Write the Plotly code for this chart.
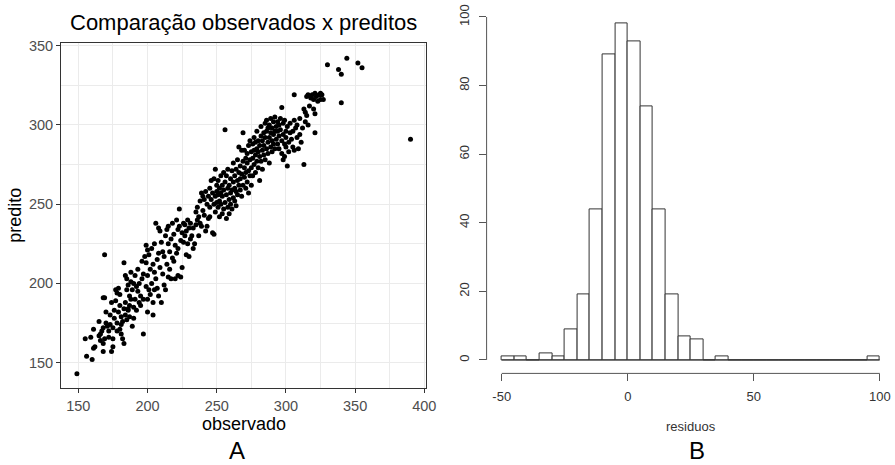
import plotly.graph_objects as go

W, H = 895, 465

# ---------------- Panel A data (observado x predito) ----------------
obs_seg1 = [149, 155, 156, 160, 161, 162, 159, 161, 165, 165, 166, 166, 167, 168, 168, 168, 169, 169, 168, 169, 170, 170, 171, 172, 172, 173, 173, 174, 175, 175, 175, 174]
pred_seg1 = [143, 165, 154, 152, 159, 160, 166, 171, 176, 167, 168, 164, 170, 172, 162, 157, 165, 218, 191, 191, 175, 182, 173, 166, 170, 174, 180, 188, 172, 165, 160, 157]

obs_seg2 = [176, 176, 177, 177, 178, 178, 178, 179, 179, 180, 180, 180, 181, 181, 181, 182, 182, 183, 183, 183, 184, 184, 184, 185, 185, 185, 186, 186, 186, 187, 187, 187, 188, 188, 188, 189, 189, 190, 190, 190]
pred_seg2 = [178, 183, 189, 196, 194, 170, 175, 182, 197, 186, 193, 171, 174, 179, 168, 176, 165, 213, 162, 184, 205, 188, 180, 203, 196, 177, 183, 199, 184, 186, 192, 179, 201, 190, 207, 173, 196, 185, 178, 200]

obs_seg3 = [191, 191, 192, 192, 193, 193, 194, 194, 195, 195, 196, 196, 197, 197, 197, 198, 199, 199, 199, 200, 200, 200, 200, 201, 201, 202, 202, 203, 203, 204, 204, 204, 205, 205, 205]
pred_seg3 = [205, 190, 183, 198, 195, 209, 200, 188, 186, 192, 203, 214, 168, 190, 206, 217, 224, 198, 213, 221, 205, 190, 182, 218, 196, 209, 193, 200, 222, 180, 188, 212, 207, 196, 225]

obs_seg4 = [206, 206, 207, 207, 208, 208, 208, 209, 209, 210, 210, 211, 211, 212, 212, 213, 213, 214, 214, 215, 215, 215, 216, 216, 217, 217, 218, 218, 219, 219, 220, 220, 221, 221, 222, 222, 222]
pred_seg4 = [238, 203, 215, 197, 235, 219, 192, 233, 210, 188, 226, 206, 220, 199, 217, 230, 196, 234, 212, 225, 204, 236, 220, 209, 203, 228, 238, 216, 214, 231, 224, 203, 240, 219, 222, 234, 205]

obs_seg5 = [223, 223, 224, 224, 225, 225, 226, 226, 227, 227, 228, 228, 229, 229, 230, 230, 231, 231, 232, 233, 233, 234, 235, 235, 236, 236, 237, 237, 238, 238, 239, 239, 240, 240, 241, 241, 242, 242, 243, 243, 244, 244, 245, 245, 245]
pred_seg5 = [247, 236, 227, 204, 210, 232, 238, 226, 230, 237, 218, 233, 240, 225, 217, 235, 228, 238, 230, 235, 222, 225, 245, 237, 248, 240, 242, 230, 238, 252, 236, 257, 255, 246, 253, 243, 258, 233, 236, 250, 241, 255, 248, 242, 260]

obs_seg6 = [246, 246, 247, 247, 248, 248, 248, 249, 249, 249, 250, 250, 250, 251, 251, 251, 252, 252, 252, 253, 253, 253, 254, 254, 254, 255, 255, 255, 256, 256, 256, 257, 257, 257, 258, 258, 258, 259, 259, 259, 260, 260, 260]
pred_seg6 = [265, 253, 232, 257, 250, 266, 231, 272, 255, 245, 262, 251, 258, 248, 265, 256, 242, 260, 252, 268, 250, 257, 244, 262, 255, 247, 270, 259, 297, 251, 264, 241, 256, 268, 248, 260, 272, 253, 262, 244, 257, 266, 250]

obs_seg7 = [261, 261, 261, 262, 262, 262, 263, 263, 263, 264, 264, 264, 265, 265, 265, 266, 266, 266, 267, 267, 267, 268, 268, 268, 269, 269, 269, 270, 270, 270, 271, 271, 271, 272, 272, 272, 273, 273, 273, 274, 274, 274, 275, 275, 275]
pred_seg7 = [271, 259, 247, 264, 254, 276, 260, 268, 252, 272, 258, 249, 265, 278, 256, 286, 262, 270, 259, 274, 266, 284, 255, 269, 295, 262, 277, 284, 267, 273, 260, 279, 270, 264, 276, 282, 271, 257, 287, 268, 278, 290, 273, 262, 283]

obs_seg8 = [276, 276, 276, 277, 277, 277, 278, 278, 278, 279, 279, 279, 280, 280, 280, 281, 281, 281, 282, 282, 282, 283, 283, 283, 284, 284, 284, 285, 285, 285, 286, 286, 286, 287, 287, 287, 288, 288, 288, 289, 289, 289, 290, 290, 290, 291, 291, 291, 292, 292, 292, 293, 293, 294, 294, 294, 295, 295, 295]
pred_seg8 = [279, 288, 268, 275, 292, 284, 270, 281, 289, 277, 296, 285, 273, 290, 283, 265, 287, 280, 293, 277, 299, 284, 290, 272, 281, 295, 287, 301, 278, 292, 285, 296, 303, 289, 282, 298, 292, 276, 300, 286, 295, 304, 290, 283, 298, 302, 288, 294, 296, 285, 305, 299, 291, 302, 288, 296, 293, 300, 285]

obs_seg9 = [296, 296, 297, 297, 297, 298, 298, 298, 299, 299, 299, 300, 300, 300, 301, 301, 302, 302, 303, 303, 304, 305, 305, 306, 306, 306, 307, 308, 308, 309, 310, 310, 311, 312, 313, 313, 314, 314, 315, 315, 316, 316, 317, 318, 319, 320, 320]
pred_seg9 = [304, 297, 311, 290, 282, 278, 301, 294, 288, 303, 280, 296, 286, 292, 274, 299, 289, 283, 295, 301, 291, 296, 286, 319, 284, 303, 298, 292, 300, 285, 294, 304, 289, 298, 310, 275, 308, 302, 318, 306, 319, 300, 312, 317, 319, 310, 316]

obs_seg10 = [321, 321, 321, 322, 323, 324, 325, 325, 326, 327, 330, 338, 340, 340, 344, 352, 355, 390]
pred_seg10 = [307, 320, 295, 318, 315, 319, 320, 316, 319, 316, 338, 335, 332, 314, 342, 339, 336, 291]

observado = (obs_seg1 + obs_seg2 + obs_seg3 + obs_seg4 + obs_seg5 +
             obs_seg6 + obs_seg7 + obs_seg8 + obs_seg9 + obs_seg10)
predito = (pred_seg1 + pred_seg2 + pred_seg3 + pred_seg4 + pred_seg5 +
           pred_seg6 + pred_seg7 + pred_seg8 + pred_seg9 + pred_seg10)

# ---------------- Panel B data (histogram of residuals) ----------------
bin_start = -50
bin_width = 5
contagens = [1, 1, 0, 2, 1, 9, 19, 44, 89, 98, 93, 74, 44, 19, 7, 6, 0, 1,
             0, 0, 0, 0, 0, 0, 0, 0, 0, 0, 0, 1]
centros = [bin_start + bin_width * (i + 0.5) for i in range(len(contagens))]
bin_end = bin_start + bin_width * len(contagens)

a_xticks = [150, 200, 250, 300, 350, 400]
a_yticks = [150, 200, 250, 300, 350]
b_xticks = [-50, 0, 50, 100]
b_xticktext = ["-50", "0", "50", "100"]
b_yticks = [0, 20, 40, 60, 80, 100]

FONT = "Liberation Sans, Arial, Helvetica, sans-serif"


def px(x):
    return x / W


def py(y):
    return 1 - y / H


fig = go.Figure()

fig.add_trace(go.Scatter(
    x=observado, y=predito, mode="markers",
    marker=dict(color="black", size=5, line=dict(width=0)),
    xaxis="x", yaxis="y", showlegend=False, hoverinfo="skip",
))

fig.add_trace(go.Bar(
    x=centros, y=contagens, width=[bin_width] * len(contagens),
    marker=dict(color="white", line=dict(color="#333333", width=1)),
    xaxis="x2", yaxis="y2", showlegend=False, hoverinfo="skip",
))

fig.update_layout(
    width=W, height=H, autosize=False,
    margin=dict(l=0, r=0, t=0, b=0, pad=0, autoexpand=False),
    paper_bgcolor="white", plot_bgcolor="white",
    font=dict(family=FONT),
    bargap=0,
    xaxis=dict(
        domain=[px(61), px(426)], anchor="y", automargin=False,
        range=[137.5, 401.2], tickvals=a_xticks,
        showgrid=True, gridcolor="#EBEBEB", gridwidth=1.2,
        minor=dict(tickvals=[175, 225, 275, 325, 375], showgrid=True,
                   gridcolor="#EBEBEB", gridwidth=0.7, ticks=""),
        zeroline=False, showline=True, mirror=True, linecolor="#333333", linewidth=1,
        ticks="outside", ticklen=4, tickwidth=1, tickcolor="#333333",
        tickfont=dict(size=14.5, color="#4D4D4D", family=FONT),
    ),
    yaxis=dict(
        domain=[py(388.3), py(43.3)], anchor="x", automargin=False,
        range=[133.8, 351.5], tickvals=a_yticks,
        showgrid=True, gridcolor="#EBEBEB", gridwidth=1.2,
        minor=dict(tickvals=[175, 225, 275, 325], showgrid=True,
                   gridcolor="#EBEBEB", gridwidth=0.7, ticks=""),
        zeroline=False, showline=True, mirror=True, linecolor="#333333", linewidth=1,
        ticks="outside", ticklen=4, tickwidth=1, tickcolor="#333333",
        tickfont=dict(size=14.5, color="#4D4D4D", family=FONT),
    ),
    xaxis2=dict(
        domain=[px(486.6), 1.0], anchor="y2", automargin=False,
        range=[-56, 106], tickvals=b_xticks, ticktext=b_xticktext,
        showgrid=False, zeroline=False, showline=False,
        ticks="outside", ticklen=7, tickwidth=1, tickcolor="#555555",
        ticklabelstandoff=4,
        tickfont=dict(size=13, color="#333333", family=FONT),
    ),
    yaxis2=dict(
        domain=[py(373.4), py(10.4)], anchor="x2", automargin=False,
        range=[-3.92, 101.92], tickvals=b_yticks, tickangle=-90,
        showgrid=False, zeroline=False, showline=False,
        ticks="outside", ticklen=7, tickwidth=1, tickcolor="#555555",
        ticklabelstandoff=4,
        tickfont=dict(size=13, color="#333333", family=FONT),
    ),
)

# axis lines of panel B (R style: only between first and last tick)
fig.add_shape(type="line", xref="x2", yref="y2 domain",
              x0=b_xticks[0], x1=b_xticks[-1], y0=0, y1=0,
              line=dict(color="#555555", width=1))
fig.add_shape(type="line", xref="x2 domain", yref="y2",
              x0=0, x1=0, y0=b_yticks[0], y1=b_yticks[-1],
              line=dict(color="#555555", width=1))
# baseline of empty histogram cells
fig.add_shape(type="line", xref="x2", yref="y2",
              x0=bin_start, x1=bin_end, y0=0, y1=0,
              line=dict(color="#333333", width=1))

annotations = [
    dict(text="Comparação observados x preditos", x=px(243.5), y=py(23),
         yanchor="middle", font=dict(size=22, color="black")),
    dict(text="observado", x=px(243.5), y=py(424), yanchor="middle",
         font=dict(size=18, color="black")),
    dict(text="predito", x=px(15), y=py(215.8), yanchor="middle", textangle=-90,
         font=dict(size=18, color="black")),
    dict(text="residuos", x=px(691), y=py(426.7), yanchor="middle",
         font=dict(size=13, color="#333333")),
    dict(text="A", x=px(236.5), y=0, yanchor="bottom", borderpad=0,
         font=dict(size=24, color="black")),
    dict(text="B", x=px(697), y=0, yanchor="bottom", borderpad=0,
         font=dict(size=24, color="black")),
]
for a in annotations:
    a.update(xref="paper", yref="paper", showarrow=False, xanchor="center")
    a["font"]["family"] = FONT
fig.update_layout(annotations=annotations)

fig.write_html(
    "out.html",
    config={"responsive": False, "displayModeBar": False},
    post_script=(
        "document.documentElement.style.margin='0';"
        "document.documentElement.style.overflow='hidden';"
        "document.body.style.margin='0';"
        "document.body.style.padding='0';"
        "document.body.style.overflow='hidden';"
    ),
)
